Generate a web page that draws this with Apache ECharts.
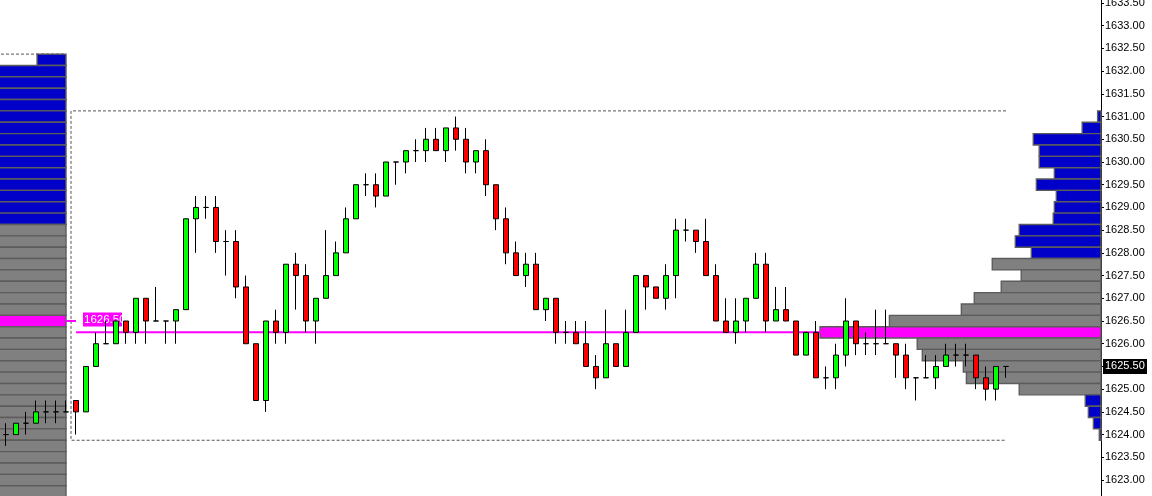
<!DOCTYPE html>
<html><head><meta charset="utf-8">
<script src="https://cdn.jsdelivr.net/npm/echarts@6/dist/echarts.min.js"></script>
<style>html,body{margin:0;padding:0;background:#fff;overflow:hidden}#c{width:1152px;height:496px}</style>
</head><body><div id="c"></div>
<script>
// ---------- DATA ----------
const candleOpen = [
 1624.0,1624.0,1624.25,1624.25,1624.5,1624.5,1624.5,1624.75,1624.5,1625.5,
 1626.0,1626.0,1626.5,1626.25,1627.0,1626.5,1626.5,1626.5,1626.75,1628.75,
 1629.0,1629.0,1628.25,1628.25,1627.25,1626.0,1624.75,1626.5,1626.25,1627.75,
 1627.5,1626.5,1627.0,1627.5,1628.0,1628.75,1629.5,1629.5,1629.25,1630.0,
 1630.0,1630.25,1630.25,1630.5,1630.25,1630.75,1630.5,1630.0,1630.25,1629.5,
 1628.75,1628.0,1627.5,1627.75,1626.75,1627.0,1626.25,1626.25,1626.0,1625.5,
 1625.25,1626.0,1625.5,1626.25,1627.5,1627.25,1627.0,1627.5,1628.5,1628.5,
 1628.25,1627.5,1626.5,1626.25,1626.5,1627.0,1627.75,1626.5,1626.75,1626.5,
 1625.75,1626.25,1625.25,1625.25,1625.75,1626.5,1626.0,1626.0,1626.0,1626.0,
 1625.75,1625.25,1625.25,1625.25,1625.5,1625.75,1625.75,1625.75,1625.25,1625.0,
 1625.5];
const candleClose = [
 1624.0,1624.25,1624.25,1624.5,1624.5,1624.5,1624.5,1624.5,1625.5,1626.0,
 1626.0,1626.5,1626.25,1627.0,1626.5,1626.5,1626.5,1626.75,1628.75,1629.0,
 1629.0,1628.25,1628.25,1627.25,1626.0,1624.75,1626.5,1626.25,1627.75,1627.5,
 1626.5,1627.0,1627.5,1628.0,1628.75,1629.5,1629.5,1629.25,1630.0,1630.0,
 1630.25,1630.25,1630.5,1630.25,1630.75,1630.5,1630.0,1630.25,1629.5,1628.75,
 1628.0,1627.5,1627.75,1626.75,1627.0,1626.25,1626.25,1626.0,1625.5,1625.25,
 1626.0,1625.5,1626.25,1627.5,1627.25,1627.0,1627.5,1628.5,1628.5,1628.25,
 1627.5,1626.5,1626.25,1626.5,1627.0,1627.75,1626.5,1626.75,1626.5,1625.75,
 1626.25,1625.25,1625.25,1625.75,1626.5,1626.0,1626.0,1626.0,1626.0,1625.75,
 1625.25,1625.25,1625.25,1625.5,1625.75,1625.75,1625.75,1625.25,1625.0,1625.5,
 1625.5];
const candleLow = [
 1623.75,1624.0,1624.0,1624.25,1624.25,1624.25,1624.5,1624.0,1624.5,1625.5,
 1626.0,1626.0,1626.0,1626.0,1626.0,1626.5,1626.0,1626.0,1626.75,1628.0,
 1628.75,1628.0,1627.5,1627.0,1626.0,1624.75,1624.5,1626.0,1626.0,1626.75,
 1626.25,1626.0,1627.0,1627.5,1628.0,1628.75,1629.25,1629.0,1629.25,1629.5,
 1629.75,1630.0,1630.0,1630.25,1630.0,1630.25,1629.75,1629.75,1629.25,1628.5,
 1627.75,1627.5,1627.25,1626.75,1626.5,1626.0,1626.0,1626.0,1625.5,1625.0,
 1625.25,1625.5,1625.5,1626.25,1626.75,1627.0,1626.75,1627.0,1628.25,1628.0,
 1627.5,1626.5,1626.25,1626.0,1626.25,1627.0,1626.25,1626.5,1626.5,1625.75,
 1625.75,1625.25,1625.0,1625.0,1625.5,1625.75,1625.75,1625.75,1626.0,1625.25,
 1625.0,1624.75,1625.25,1625.0,1625.5,1625.5,1625.5,1625.0,1624.75,1624.75,
 1625.25];
const candleHigh = [
 1624.25,1624.25,1624.5,1624.75,1624.75,1624.75,1624.75,1624.75,1625.5,1626.25,
 1626.5,1626.5,1626.5,1627.0,1627.0,1627.25,1626.5,1626.75,1628.75,1629.25,
 1629.25,1629.25,1628.5,1628.5,1627.5,1626.0,1626.5,1626.75,1627.75,1628.0,
 1627.75,1627.0,1628.5,1628.25,1629.0,1629.5,1629.75,1629.75,1630.0,1630.0,
 1630.25,1630.5,1630.75,1630.75,1630.75,1631.0,1630.75,1630.25,1630.5,1629.5,
 1629.0,1628.25,1628.0,1628.0,1627.0,1627.0,1626.5,1626.5,1626.5,1625.75,
 1626.75,1626.0,1626.75,1627.5,1627.5,1627.25,1627.75,1628.75,1628.75,1628.5,
 1628.75,1627.75,1627.0,1627.0,1627.0,1628.0,1628.0,1627.25,1627.25,1626.5,
 1626.25,1626.5,1625.5,1626.0,1627.0,1626.5,1626.25,1626.75,1626.75,1626.0,
 1626.0,1625.25,1625.75,1625.75,1626.0,1626.0,1626.0,1625.75,1625.5,1625.5,
 1625.5];

// current session volume profile (relative volume, POC = 100)
const sessionProfilePrices = [
 1631.0,1630.75,1630.5,1630.25,1630.0,1629.75,1629.5,1629.25,1629.0,1628.75,
 1628.5,1628.25,1628.0,1627.75,1627.5,1627.25,1627.0,1626.75,1626.5,1626.25,
 1626.0,1625.75,1625.5,1625.25,1625.0,1624.75,1624.5,1624.25,1624.0];
const sessionProfileVolumes = [
 1.2,6.7,24.1,22.0,22.0,16.6,23.0,15.9,16.6,17.0,
 29.1,30.5,24.8,38.7,28.4,35.5,45.1,49.7,75.3,100,
 65.4,63.6,49.0,47.9,29.1,5.6,4.5,2.7,0.6];
const sessionPoc = 1626.25, sessionVaHigh = 1627.75, sessionVaLow = 1625.0;

// previous session volume profile (mostly cut off by the left edge)
const prevProfilePrices = [
 1632.25,1632.0,1631.75,1631.5,1631.25,1631.0,1630.75,1630.5,1630.25,1630.0,
 1629.75,1629.5,1629.25,1629.0,1628.75,1628.5,1628.25,1628.0,1627.75,1627.5,
 1627.25,1627.0,1626.75,1626.5,1626.25,1626.0,1625.75,1625.5,1625.25,1625.0,
 1624.75,1624.5,1624.25,1624.0,1623.75,1623.5,1623.25,1623.0,1622.75,1622.5];
const prevProfileVolumes = [
 10.3,38,41,44,46,49,52,55,57,60,
 58,62,65,63,67,72,76,79,83,86,
 88,92,95,104,97,93,90,87,84,81,
 78,75,71,68,64,60,57,53,50,46];
const prevPoc = 1626.5, prevVaHigh = 1628.5, prevVaLow = 1622.0, prevHigh = 1632.25;

const sessionStart = 7;      // first candle of current session
const tickSize = 0.25;
const priceTicks = {min: 1622.5, max: 1634.0, step: 0.5};
const slotCount = 110;

// ---------- CHART ----------
const chart = echarts.init(document.getElementById('c'));
const BLUE = '#0000c8', GRAY = '#808080', MAG = '#ff00ff', EDGE = '#5c5c5c';
const FONT = '"Liberation Sans", Arial, sans-serif';

const cats = []; for (let i = 0; i < slotCount; i++) cats.push(String(i));
const candles = candleOpen.map((o, i) => [o, candleClose[i], candleLow[i], candleHigh[i]]);

const profileData = [];
sessionProfilePrices.forEach((p, i) => profileData.push([sessionProfileVolumes[i], p, 0]));
prevProfilePrices.forEach((p, i) => profileData.push([prevProfileVolumes[i], p, 1]));

let sessHigh = -Infinity, sessLow = Infinity;
for (let i = sessionStart; i < candleHigh.length; i++) {
  sessHigh = Math.max(sessHigh, candleHigh[i]); sessLow = Math.min(sessLow, candleLow[i]);
}
const lastIdx = candleClose.length - 1;
const lastClose = candleClose[lastIdx];

function profileColor(p, side) {
  const poc = side ? prevPoc : sessionPoc, hi = side ? prevVaHigh : sessionVaHigh, lo = side ? prevVaLow : sessionVaLow;
  if (p === poc) return MAG;
  if (p > hi || p < lo) return BLUE;
  return GRAY;
}

function renderProfile(params, api) {
  const vol = api.value(0), p = api.value(1), side = api.value(2);
  const top = api.coord([0, p + tickSize / 2])[1];
  const bot = api.coord([0, p - tickSize / 2])[1];
  const len = api.size([vol, 0])[0];
  let right;
  if (side === 0) right = api.coord([0, p])[0];
  else right = chart.convertToPixel({xAxisIndex: 0}, sessionStart - 1);
  return {type: 'rect', shape: {x: right - len, y: top, width: len, height: bot - top},
    style: {fill: profileColor(p, side), stroke: EDGE, lineWidth: 1.4}};
}

function renderDecor(params, api) {
  const cs = params.coordSys;
  const right = cs.x + cs.width;
  const band = api.size([1, 0])[0];
  const startX = api.coord([sessionStart, sessionPoc])[0];
  const boxLeft = startX - band / 2;
  const lastX = api.coord([lastIdx, sessionPoc])[0];
  const yTop = api.coord([0, sessHigh + tickSize / 2])[1];
  const yBot = api.coord([0, sessLow - tickSize / 2])[1];
  const pocY = api.coord([0, sessionPoc])[1];
  const prevPocY = api.coord([0, prevPoc])[1];
  const prevTopY = api.coord([0, prevHigh + tickSize / 2])[1];
  const anchor = api.coord([sessionStart - 1, prevPoc])[0];
  const dash = {stroke: '#555', lineWidth: 1, lineDash: [3, 2], fill: null};
  return {type: 'group', children: [
    {type: 'line', shape: {x1: cs.x, y1: prevTopY, x2: anchor, y2: prevTopY}, style: dash, z2: 0},
    {type: 'polyline', shape: {points: [[lastX, yTop], [boxLeft, yTop], [boxLeft, yBot], [lastX, yBot]]}, style: dash},
    {type: 'line', shape: {x1: anchor, y1: prevPocY, x2: startX, y2: prevPocY}, style: {stroke: MAG, lineWidth: 2}},
    {type: 'rect', shape: {x: startX + 7, y: prevPocY - 8.5, width: 39, height: 14}, style: {fill: MAG}},
    {type: 'text', x: startX + 8, y: prevPocY - 1.5, style: {text: prevPoc.toFixed(2), fill: '#fff', font: '11.5px ' + FONT, verticalAlign: 'middle', align: 'left'}},
    {type: 'line', shape: {x1: startX, y1: pocY, x2: right, y2: pocY}, style: {stroke: MAG, lineWidth: 2}}
  ]};
}

function renderPriceTag(params, api) {
  const cs = params.coordSys;
  const right = cs.x + cs.width;
  const y = api.coord([lastIdx, lastClose])[1];
  return {type: 'group', children: [
    {type: 'rect', shape: {x: right + 2, y: y - 7.5, width: 44, height: 15}, style: {fill: '#000'}},
    {type: 'text', x: right + 4, y: y, style: {text: lastClose.toFixed(2), fill: '#fff', font: '11px ' + FONT, verticalAlign: 'middle'}}
  ]};
}

const k = 45.43; // px per price unit from the reference
chart.setOption({
  animation: false,
  backgroundColor: '#fff',
  grid: {left: 1, right: 51, top: 3 - (priceTicks.max - 1633.5) * k, bottom: 496 - (3 + (1633.5 - priceTicks.min) * k),
         containLabel: false, outerBoundsMode: 'none'},
  xAxis: [
    {type: 'category', data: cats, show: false, boundaryGap: true},
    {type: 'value', show: false, inverse: true, min: 0, max: 391.5, position: 'top'}
  ],
  yAxis: {
    type: 'value', position: 'right', min: priceTicks.min, max: priceTicks.max, interval: priceTicks.step,
    axisLine: {show: true, lineStyle: {color: '#000', width: 1}},
    axisTick: {show: true, length: 3, lineStyle: {color: '#000'}},
    splitLine: {show: false},
    axisLabel: {color: '#000', fontSize: 11, fontFamily: FONT, margin: 4, formatter: v => v.toFixed(2)}
  },
  series: [
    {type: 'custom', xAxisIndex: 1, yAxisIndex: 0, renderItem: renderProfile, data: profileData, z: 1, silent: true,
     encode: {x: 0, y: 1}},
    {type: 'custom', xAxisIndex: 0, renderItem: renderDecor, data: [[sessionStart, sessionPoc]], z: 2, silent: true},
    {type: 'candlestick', xAxisIndex: 0, data: candles, barWidth: 6, z: 3,
     itemStyle: {color: '#00ff00', color0: '#ff0000', borderColor: '#000', borderColor0: '#000', borderColorDoji: '#000', borderWidth: 1}},
    {type: 'custom', xAxisIndex: 0, renderItem: renderPriceTag, data: [[lastIdx, lastClose]], z: 10, silent: true, clip: false}
  ]
});
</script>
</body></html>
